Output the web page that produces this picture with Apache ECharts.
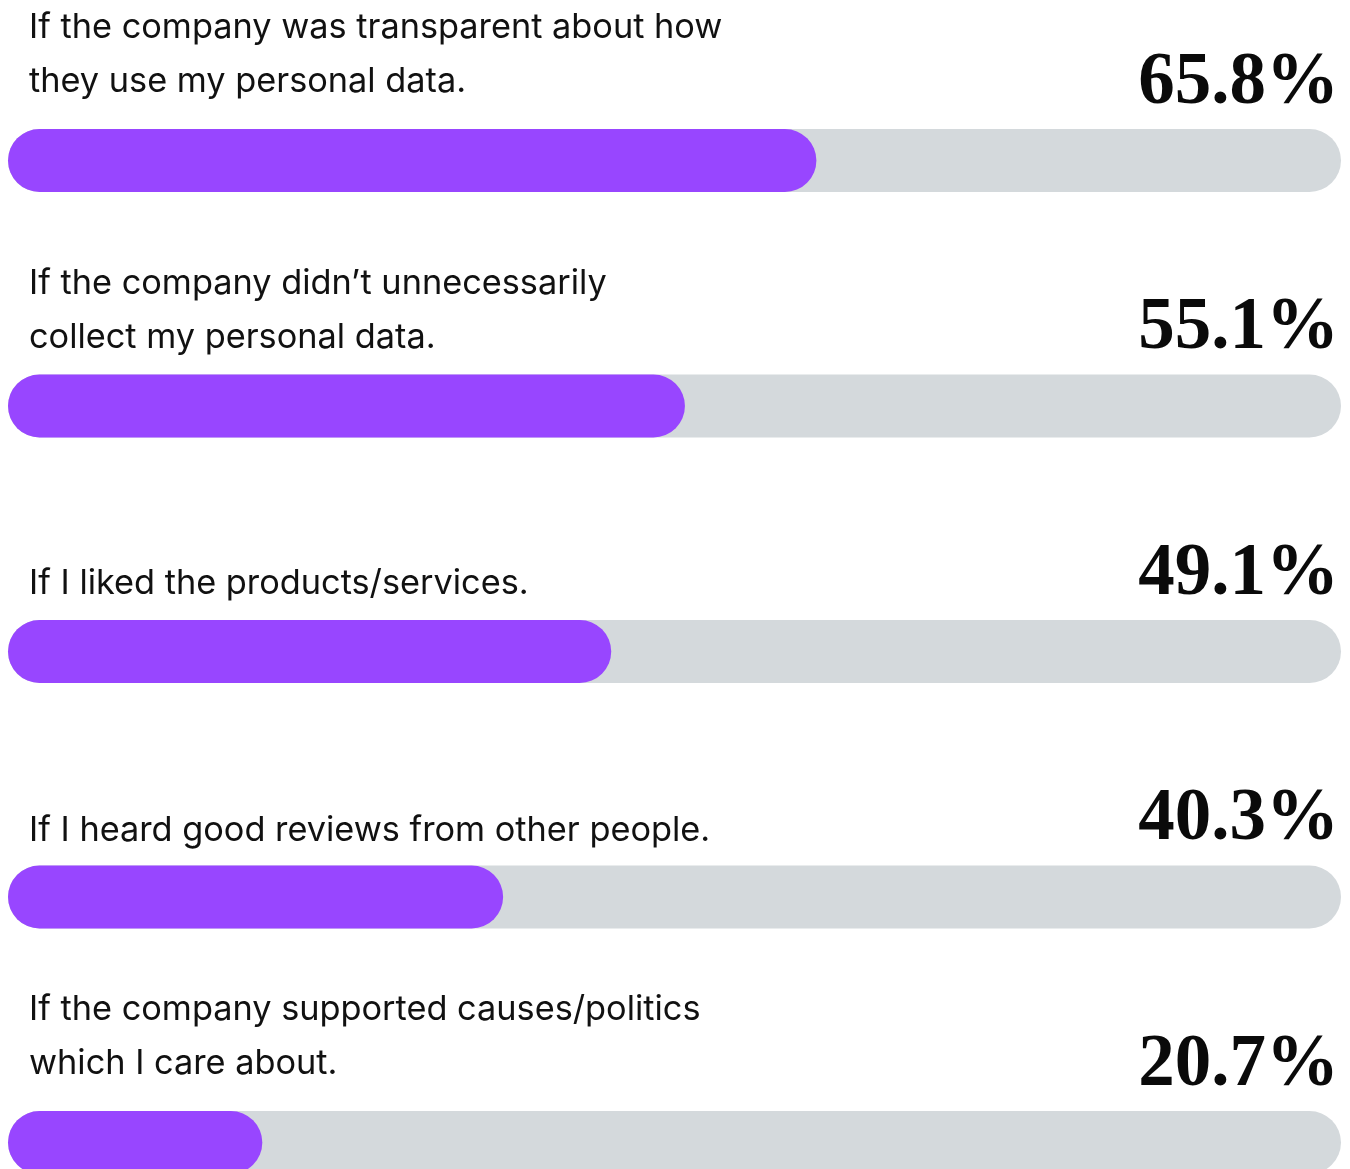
<!DOCTYPE html>
<html>
<head>
<meta charset="utf-8">
<title>Trust drivers</title>
<script src="https://cdn.jsdelivr.net/npm/echarts@6/dist/echarts.min.js"></script>
<style>
  html, body { margin: 0; padding: 0; background: #ffffff; }
  #chart { width: 1350px; height: 1169px; }
</style>
</head>
<body>
<div id="chart"></div>
<script>
// Survey answers, one bar per statement (top to bottom)
const categories = [
  'If the company was transparent about how\nthey use my personal data.',
  'If the company didn\u2019t unnecessarily\ncollect my personal data.',
  'If I liked the products/services.',
  'If I heard good reviews from other people.',
  'If the company supported causes/politics\nwhich I care about.'
];
const values = [65.8, 55.1, 49.1, 40.3, 20.7];

// Layout settings
const AXIS_MAX = 108.5;           // track length in value units
const BAR_WIDTH = 63;
const PURPLE = '#9846FF';
const TRACK = '#D4D9DC';
const captionLift = [20, 10, 9, 8, 20]; // gap between caption block and bar top

const chart = echarts.init(document.getElementById('chart'), null, { renderer: 'canvas' });

const option = {
  animation: false,
  backgroundColor: '#ffffff',
  // rows sit on the category ticks: first bar centred at the grid top, last at its bottom
  grid: { left: 8, width: 1333, top: 160.5, height: 982, containLabel: false },
  xAxis: { type: 'value', min: 0, max: AXIS_MAX, show: false },
  yAxis: { type: 'category', data: categories, inverse: true, boundaryGap: false, show: false },
  series: [
    {
      name: 'track',
      type: 'bar',
      clip: false,
      barWidth: BAR_WIDTH,
      barGap: '-100%',
      silent: true,
      itemStyle: { color: TRACK, borderRadius: BAR_WIDTH / 2 },
      label: {
        show: true,
        position: ['100%', 0],
        offset: [-2, -45],
        align: 'right',
        verticalAlign: 'middle',
        fontFamily: '"Liberation Serif", "Times New Roman", serif',
        fontWeight: 'bold',
        fontSize: 73,
        color: '#0a0a0a',
        formatter: p => values[p.dataIndex].toFixed(1) + '%'
      },
      data: values.map(() => AXIS_MAX)
    },
    {
      name: 'share',
      type: 'bar',
      clip: false,
      barWidth: BAR_WIDTH,
      barGap: '-100%',
      itemStyle: { color: PURPLE, borderRadius: BAR_WIDTH / 2 },
      data: values.map((v, i) => ({
        value: v,
        label: {
          show: true,
          position: [21, -captionLift[i]],
          align: 'left',
          verticalAlign: 'bottom',
          fontFamily: 'Inter, "Noto Sans", sans-serif',
          fontSize: 34.3,
          lineHeight: 54,
          color: '#111111',
          formatter: () => categories[i]
        }
      }))
    }
  ]
};

chart.setOption(option);
</script>
</body>
</html>
